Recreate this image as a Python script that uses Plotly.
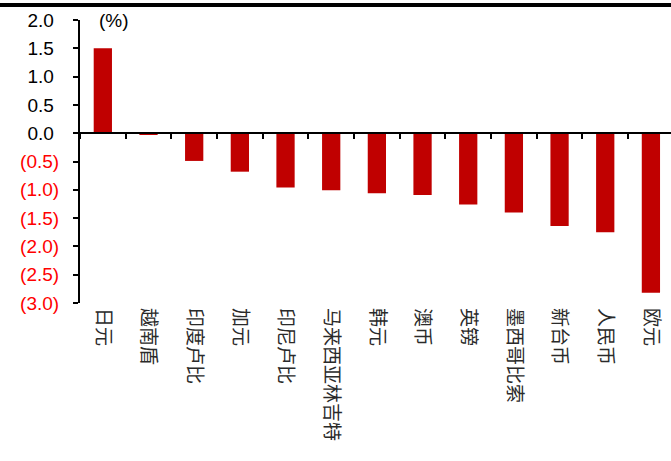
import plotly.graph_objects as go

# Currency change, percent
currencies = ["日元", "越南盾", "印度卢比", "加元", "印尼卢比", "马来西亚林吉特", "韩元",
              "澳币", "英镑", "墨西哥比索", "新台币", "人民币", "欧元"]
changes = [1.50, -0.03, -0.49, -0.68, -0.96, -1.01, -1.06, -1.09, -1.26, -1.40, -1.64, -1.75, -2.82]

y_ticks = [2.0, 1.5, 1.0, 0.5, 0.0, -0.5, -1.0, -1.5, -2.0, -2.5, -3.0]


def fmt(v):
    # accounting style: negatives in red parentheses, positives padded for alignment
    if v < 0:
        return f"<span style='color:#FF0000'>({abs(v):.1f})</span>"
    return f"{v:.1f}\u00a0"


y_ticktext = [fmt(v) for v in y_ticks]

BAR_COLOR = "#C00000"
NUM_FONT = "Liberation Sans, Arial, sans-serif"
CJK_FONT = "Noto Sans CJK SC, sans-serif"

fig = go.Figure()

fig.add_trace(go.Bar(
    x=currencies, y=changes, width=0.4,
    marker=dict(color=BAR_COLOR, line=dict(width=0)),
    xaxis="x", yaxis="y", hoverinfo="x+y",
))
# invisible companion trace so the label axis gets the categories
fig.add_trace(go.Scatter(
    x=currencies, y=changes, mode="markers", marker=dict(opacity=0),
    xaxis="x2", yaxis="y", hoverinfo="skip", showlegend=False,
))

x_range = [-0.5, 12.44]

fig.update_layout(
    width=671, height=461, autosize=False,
    margin=dict(l=80, r=0, t=20, b=158, pad=0),
    paper_bgcolor="white", plot_bgcolor="white",
    showlegend=False,
    bargap=0.6,
    # axis line drawn through zero with category boundary ticks
    xaxis=dict(
        type="category", range=x_range,
        anchor="free", position=0.6,
        showline=True, linecolor="black", linewidth=2,
        ticks="outside", tickson="boundaries", ticklen=5, tickwidth=2, tickcolor="black",
        showticklabels=False, showgrid=False, zeroline=False,
    ),
    # category labels along the bottom
    xaxis2=dict(
        type="category", range=x_range,
        overlaying="x", anchor="y", side="bottom",
        showline=False, ticks="", showgrid=False, zeroline=False,
        tickangle=90, ticklabelstandoff=4,
        tickfont=dict(family=CJK_FONT, size=19, color="#2a2a2a"),
    ),
    yaxis=dict(
        range=[-3, 2], tickvals=y_ticks, ticktext=y_ticktext,
        showline=True, linecolor="black", linewidth=2,
        ticks="outside", ticklen=5, tickwidth=2, tickcolor="black",
        showgrid=False, zeroline=False, ticklabelstandoff=10,
        tickfont=dict(family=NUM_FONT, size=19, color="black"),
    ),
    shapes=[dict(
        type="line", xref="paper", yref="paper",
        x0=-0.2, x1=1.05, y0=1.053, y1=1.053,
        line=dict(color="black", width=4),
    )],
    annotations=[dict(
        text="(%)", xref="paper", yref="paper", x=0.028, y=1.0,
        xanchor="left", yanchor="middle", showarrow=False,
        font=dict(family=NUM_FONT, size=19, color="black"),
    )],
)

fig.write_html("out.html")
